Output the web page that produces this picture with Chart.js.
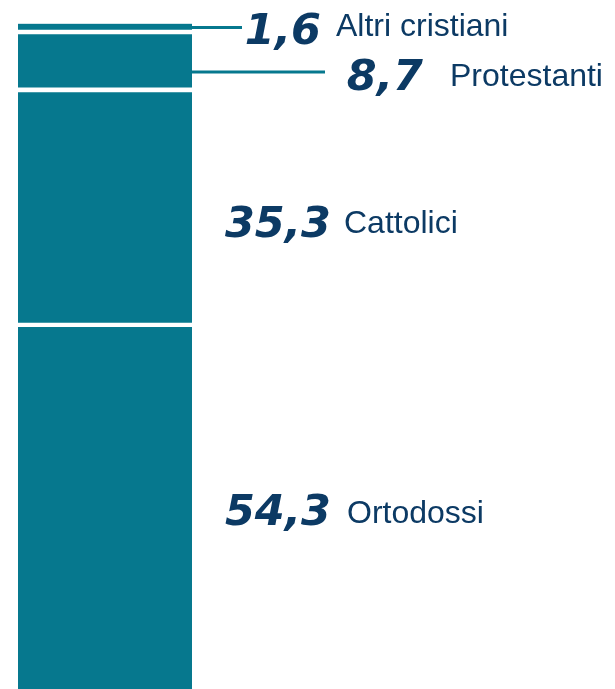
<!DOCTYPE html>
<html>
<head>
<meta charset="utf-8">
<script src="https://cdn.jsdelivr.net/npm/chart.js@4"></script>
<style>
  html, body { margin: 0; padding: 0; background: #ffffff; }
  #wrap { position: relative; width: 615px; height: 689px; }
</style>
</head>
<body>
<div id="wrap"><canvas id="c"></canvas></div>
<script>
// Data (bottom segment first)
const categories = ['Ortodossi', 'Cattolici', 'Protestanti', 'Altri cristiani'];
const values = [54.3, 35.3, 8.7, 1.6];
const barLabel = [''];

const TEAL = '#06788e';
const NAVY = '#0c3a64';

// label layout (styling only): number right edge, name left edge, baseline offsets from segment middle
const layout = [
  { numRight: 331, nameLeft: 347, numDy: 17, nameDy: 15, leader: null },
  { numRight: 331, nameLeft: 344, numDy: 27, nameDy: 23, leader: null },
  { numRight: 423, nameLeft: 450, numDy: 26.6, nameDy: 22.6, leader: { toX: 325, dy: 8.6 } },
  { numRight: 321, nameLeft: 336, numDy: 15, nameDy: 7, leader: { toX: 242, dy: -1.5 } }
];

const labelPlugin = {
  id: 'segLabels',
  afterDatasetsDraw(chart) {
    const ctx = chart.ctx;
    chart.data.datasets.forEach((ds, i) => {
      const el = chart.getDatasetMeta(i).data[0];
      if (!el) return;
      const mid = (el.y + el.base) / 2;
      const right = el.x + el.width / 2;
      const L = layout[i];
      ctx.save();
      if (L.leader) {
        ctx.strokeStyle = TEAL;
        ctx.lineWidth = 3;
        ctx.beginPath();
        ctx.moveTo(right - 2, mid + L.leader.dy);
        ctx.lineTo(L.leader.toX, mid + L.leader.dy);
        ctx.stroke();
      }
      ctx.fillStyle = NAVY;
      ctx.textBaseline = 'alphabetic';
      ctx.textAlign = 'right';
      ctx.font = 'italic bold 43px "DejaVu Sans"';
      ctx.fillText(String(ds.data[0]).replace('.', ','), L.numRight, mid + L.numDy);
      ctx.textAlign = 'left';
      ctx.font = '32px "Liberation Sans"';
      ctx.fillText(ds.label, L.nameLeft, mid + L.nameDy);
      ctx.restore();
    });
  }
};

new Chart(document.getElementById('c'), {
  type: 'bar',
  data: {
    labels: barLabel,
    datasets: categories.map((name, i) => ({
      label: name,
      data: [values[i]],
      backgroundColor: TEAL,
      borderColor: '#ffffff',
      borderWidth: i === 0 ? 0 : { top: 0, left: 0, right: 0, bottom: 5 },
      borderSkipped: false,
      barPercentage: 1,
      categoryPercentage: 1
    }))
  },
  options: {
    responsive: true,
    maintainAspectRatio: false,
    animation: false,
    layout: { padding: { left: 18, right: 423, top: 23, bottom: 0 } },
    plugins: { legend: { display: false }, tooltip: { enabled: false } },
    scales: {
      x: { stacked: true, display: false },
      y: { stacked: true, display: false, min: 0, max: 100 }
    }
  },
  plugins: [labelPlugin]
});
</script>
</body>
</html>
